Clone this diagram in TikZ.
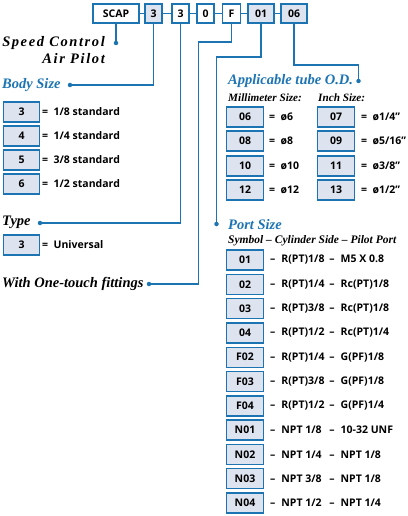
\documentclass[tikz,border=0pt]{standalone}
\usepackage{xcolor}
\usepackage{fontspec}
\setmainfont{Liberation Serif}
\setsansfont{Open Sans}
\newfontfamily\spacedfont[LetterSpace=11]{Liberation Serif}
\usepackage{tikz}
\usetikzlibrary{positioning}
\definecolor{bluec}{HTML}{1C74B3}
\definecolor{boxc}{HTML}{DDE3EF}

\begin{document}
\begin{tikzpicture}[x=1pt, y=-1pt,
	code/.style = {draw=bluec, line width=1.3pt, fill=white, minimum height=19pt, inner sep=0pt, font=\sffamily\bfseries\fontsize{10.5}{11}\selectfont},
	shaded/.style = {code, fill=boxc},
	key/.style = {draw=bluec, line width=1.4pt, fill=boxc, minimum width=36.5pt, minimum height=20pt, inner sep=0pt, font=\sffamily\bfseries\fontsize{10.5}{11}\selectfont},
	desc/.style = {anchor=west, inner sep=0pt, font=\sffamily\bfseries\fontsize{10.5}{11}\selectfont},
	head/.style = {anchor=west, inner sep=0pt, text=bluec, font=\bfseries\itshape\fontsize{14.5}{15}\selectfont},
	sub/.style = {anchor=west, inner sep=0pt, font=\bfseries\itshape\fontsize{11.5}{12}\selectfont},
	dot/.style = {circle, fill=bluec, inner sep=0pt, minimum size=4.5pt},
	lead/.style = {draw=bluec, line width=1.1pt}]
	\useasboundingbox (0,0) rectangle (407,516);
	
	% model code
	\node[code, minimum width=46pt] (scap) at (116,13.5) {SCAP};
	\node[shaded, minimum width=17pt] (body) at (153.5,13.5) {3};
	\node[code, minimum width=17pt] (type) at (180.5,13.5) {3};
	\node[code, minimum width=17pt] (zero) at (205.5,13.5) {0};
	\node[code, minimum width=18pt] (fit) at (231.5,13.5) {F};
	\node[shaded, minimum width=26pt] (port) at (261,13.5) {01};
	\node[shaded, minimum width=26pt] (tube) at (294,13.5) {06};
	\draw[lead] (scap) -- (body);
	\draw[lead] (body) -- (type);
	\draw[lead] (type) -- (zero);
	\draw[lead] (zero) -- (fit);
	\draw[lead] (fit) -- (port);
	\draw[lead] (port) -- (tube);
	
	% leads
	\node[dot] (dspeed) at (116,43) {};
	\node[dot] (dbody) at (70,85) {};
	\node[dot] (dtype) at (40,223) {};
	\node[dot] (dfit) at (149,284) {};
	\node[dot] (dport) at (216.5,224) {};
	\node[dot] (dtube) at (358.5,81) {};
	\coordinate (fbend) at (198.5,42);
	\coordinate (pbend) at (216.5,57);
	\coordinate (tbend) at (358.5,65);
	\draw[lead] (scap) -- (dspeed);
	\draw[lead] (body.south) |- (dbody);
	\draw[lead] (type.south) |- (dtype);
	\draw[lead] (fit.south) |- (fbend) |- (dfit);
	\draw[lead] (port.south) |- (pbend) -- (dport);
	\draw[lead] (tube.south) |- (tbend) -- (dtube);
	
	% headings
	\node[anchor=east, inner sep=0pt, font=\spacedfont\bfseries\itshape\fontsize{14.5}{15}\selectfont] (speed) at (105,43) {Speed Control};
	\node[anchor=east, inner sep=0pt, font=\spacedfont\bfseries\itshape\fontsize{14.5}{15}\selectfont] (pilot) at (105,59) {Air Pilot};
	\node[head] (bodyhead) at (2,85) {Body Size};
	\node[head, text=black] (typehead) at (2,222) {Type};
	\node[head, text=black] (fithead) at (2,284) {With One-touch fittings};
	\node[head] (tubehead) at (228,81) {Applicable tube O.D.};
	\node[sub, font=\bfseries\itshape\fontsize{11.2}{12}\selectfont] (mmhead) at (228,97.5) {Millimeter Size:};
	\node[sub, font=\bfseries\itshape\fontsize{11.2}{12}\selectfont] (inhead) at (318,97.5) {Inch Size:};
	\node[head] (porthead) at (228,225) {Port Size};
	\node[sub] (symhead) at (228,241) {Symbol -- Cylinder Side -- Pilot Port};
	
	% body size
	\node[key] (b3) at (21.5,112) {3};
	\node[key] (b4) at (21.5,136) {4};
	\node[key] (b5) at (21.5,160) {5};
	\node[key] (b6) at (21.5,184) {6};
	\node[desc] (b3t) at (42,112) {= \ 1/8 standard};
	\node[desc] (b4t) at (42,136) {= \ 1/4 standard};
	\node[desc] (b5t) at (42,160) {= \ 3/8 standard};
	\node[desc] (b6t) at (42,184) {= \ 1/2 standard};
	
	% type
	\node[key] (t3) at (21.5,245) {3};
	\node[desc] (t3t) at (42,245) {= \ Universal};
	
	% tube
	\node[key] (m06) at (245,117) {06};
	\node[key] (m08) at (245,141) {08};
	\node[key] (m10) at (245,166) {10};
	\node[key] (m12) at (245,190) {12};
	\node[desc] (m06t) at (269,117) {= \ ø6};
	\node[desc] (m08t) at (269,141) {= \ ø8};
	\node[desc] (m10t) at (269,166) {= \ ø10};
	\node[desc] (m12t) at (269,190) {= \ ø12};
	\node[key] (i07) at (336,117) {07};
	\node[key] (i09) at (336,141) {09};
	\node[key] (i11) at (336,166) {11};
	\node[key] (i13) at (336,190) {13};
	\node[desc] (i07t) at (361,117) {= \ ø1/4"};
	\node[desc] (i09t) at (361,141) {= \ ø5/16"};
	\node[desc] (i11t) at (361,166) {= \ ø3/8"};
	\node[desc] (i13t) at (361,190) {= \ ø1/2"};
	
	% port size
	\node[key] (p01) at (245,260) {01};
	\node[key] (p02) at (245,284.3) {02};
	\node[key] (p03) at (245,308.6) {03};
	\node[key] (p04) at (245,332.9) {04};
	\node[key] (pF02) at (245,357.2) {F02};
	\node[key] (pF03) at (245,381.5) {F03};
	\node[key] (pF04) at (245,405.8) {F04};
	\node[key] (pN01) at (245,430.1) {N01};
	\node[key] (pN02) at (245,454.4) {N02};
	\node[key] (pN03) at (245,478.7) {N03};
	\node[key] (pN04) at (245,503) {N04};
	\node[desc] (p01t) at (270,260) {--\hspace{6pt}\makebox[48pt][l]{R(PT)1/8}--\hspace{6pt}M5 X 0.8};
	\node[desc] (p02t) at (270,284.3) {--\hspace{6pt}\makebox[48pt][l]{R(PT)1/4}--\hspace{6pt}Rc(PT)1/8};
	\node[desc] (p03t) at (270,308.6) {--\hspace{6pt}\makebox[48pt][l]{R(PT)3/8}--\hspace{6pt}Rc(PT)1/8};
	\node[desc] (p04t) at (270,332.9) {--\hspace{6pt}\makebox[48pt][l]{R(PT)1/2}--\hspace{6pt}Rc(PT)1/4};
	\node[desc] (pF02t) at (270,357.2) {--\hspace{6pt}\makebox[48pt][l]{R(PT)1/4}--\hspace{6pt}G(PF)1/8};
	\node[desc] (pF03t) at (270,381.5) {--\hspace{6pt}\makebox[48pt][l]{R(PT)3/8}--\hspace{6pt}G(PF)1/8};
	\node[desc] (pF04t) at (270,405.8) {--\hspace{6pt}\makebox[48pt][l]{R(PT)1/2}--\hspace{6pt}G(PF)1/4};
	\node[desc] (pN01t) at (270,430.1) {--\hspace{6pt}\makebox[48pt][l]{NPT 1/8}--\hspace{6pt}10-32 UNF};
	\node[desc] (pN02t) at (270,454.4) {--\hspace{6pt}\makebox[48pt][l]{NPT 1/4}--\hspace{6pt}NPT 1/8};
	\node[desc] (pN03t) at (270,478.7) {--\hspace{6pt}\makebox[48pt][l]{NPT 3/8}--\hspace{6pt}NPT 1/8};
	\node[desc] (pN04t) at (270,503) {--\hspace{6pt}\makebox[48pt][l]{NPT 1/2}--\hspace{6pt}NPT 1/4};
\end{tikzpicture}
\end{document}
